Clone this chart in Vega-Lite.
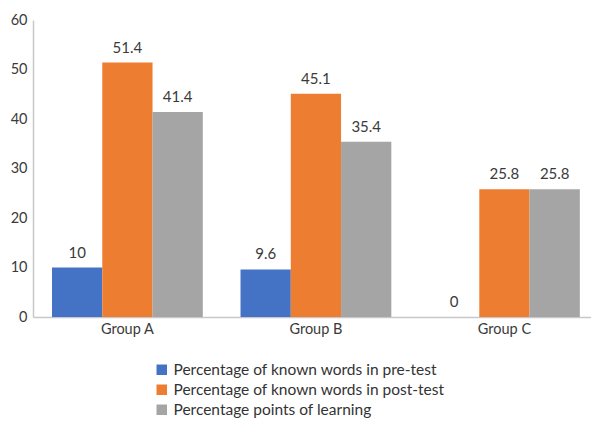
{
  "$schema": "https://vega.github.io/schema/vega-lite/v6.json",
  "autosize": {"type": "none"},
  "padding": {"left": 33, "top": 20, "right": 0, "bottom": 105},
  "width": 558,
  "height": 297,
  "config": {
    "view": {"stroke": null},
    "font": "Lato",
    "axis": {"grid": false, "ticks": false, "domainColor": "#c8c8c8", "domainWidth": 1.5, "labelFont": "Lato", "labelFontSize": 14.5, "labelColor": "#3a3a3a", "title": null},
    "legend": {"labelFont": "Lato", "labelFontSize": 15.5, "labelColor": "#333333"}
  },
  "data": {
    "values": [
      {"group": "Group A", "series": "Percentage of known words in pre-test", "value": 10},
      {"group": "Group A", "series": "Percentage of known words in post-test", "value": 51.4},
      {"group": "Group A", "series": "Percentage points of learning", "value": 41.4},
      {"group": "Group B", "series": "Percentage of known words in pre-test", "value": 9.6},
      {"group": "Group B", "series": "Percentage of known words in post-test", "value": 45.1},
      {"group": "Group B", "series": "Percentage points of learning", "value": 35.4},
      {"group": "Group C", "series": "Percentage of known words in pre-test", "value": 0},
      {"group": "Group C", "series": "Percentage of known words in post-test", "value": 25.8},
      {"group": "Group C", "series": "Percentage points of learning", "value": 25.8}
    ]
  },
  "encoding": {
    "x": {"field": "group", "type": "nominal", "scale": {"paddingInner": 0.2, "paddingOuter": 0.08, "align": 0.63}, "axis": {"labelAngle": 0, "labelPadding": 5}},
    "xOffset": {"field": "series", "type": "nominal", "sort": null, "scale": {"paddingInner": 0, "paddingOuter": 0}},
    "y": {"field": "value", "type": "quantitative", "scale": {"domain": [0, 60]}, "axis": {"values": [0, 10, 20, 30, 40, 50, 60], "labelPadding": 6}}
  },
  "layer": [
    {
      "mark": {"type": "bar"},
      "encoding": {
        "color": {"field": "series", "type": "nominal", "sort": null,
          "scale": {"domain": ["Percentage of known words in pre-test", "Percentage of known words in post-test", "Percentage points of learning"], "range": ["#4472C4", "#ED7D31", "#A5A5A5"]},
          "legend": {"orient": "none", "legendX": 121, "legendY": 342, "direction": "vertical", "title": null, "symbolType": "square", "symbolSize": 110, "symbolStrokeWidth": 0, "symbolOpacity": 1, "rowPadding": 3, "labelOffset": 4, "labelLimit": 450}}
      }
    },
    {
      "mark": {"type": "text", "baseline": "bottom", "dy": -7, "fontSize": 15, "font": "Lato", "color": "#3a3a3a"},
      "encoding": {"text": {"field": "value", "type": "quantitative"}}
    }
  ]
}
